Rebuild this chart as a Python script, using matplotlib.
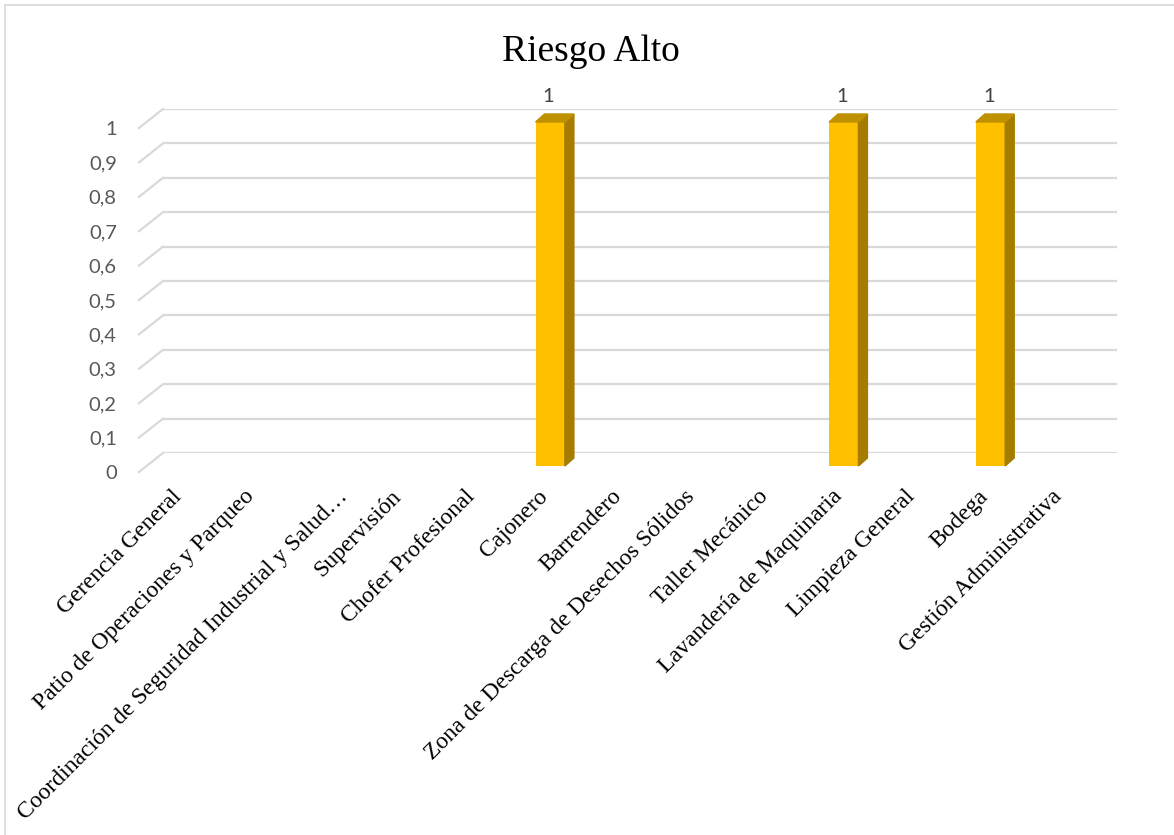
import numpy as np
import matplotlib
matplotlib.use("Agg")
import matplotlib.pyplot as plt
import matplotlib.transforms as mtransforms
from matplotlib.patches import Polygon
from matplotlib.lines import Line2D

# datos del grafico
categorias = ["Gerencia General", "Patio de Operaciones y Parqueo",
              "Coordinación de Seguridad Industrial y Salud…", "Supervisión",
              "Chofer Profesional", "Cajonero", "Barrendero",
              "Zona de Descarga de Desechos Sólidos", "Taller Mecánico",
              "Lavandería de Maquinaria", "Limpieza General", "Bodega",
              "Gestión Administrativa"]
valores = [0, 0, 0, 0, 0, 1, 0, 0, 0, 1, 0, 1, 0]
y_ticks = [0, 0.1, 0.2, 0.3, 0.4, 0.5, 0.6, 0.7, 0.8, 0.9, 1]
y_labels = ["0", "0,1", "0,2", "0,3", "0,4", "0,5", "0,6", "0,7", "0,8", "0,9", "1"]
titulo = "Riesgo Alto"

W, H = 1174, 835
fig = plt.figure(figsize=(W / 100, H / 100), dpi=100)

# pared del fondo en pixeles
left, right, top, bottom = 163, 1117, 109, 453
ax = fig.add_axes([left / W, 1 - bottom / H, (right - left) / W, (bottom - top) / H])
n = len(categorias)
ax.set_xlim(-0.5, n - 0.5)
ax.set_ylim(0, 1)
for s in ax.spines.values():
    s.set_visible(False)

px_x = (right - left) / n
px_y = (bottom - top)

gris = "#D9D9D9"
ax.set_yticks(y_ticks)
ax.set_yticklabels(y_labels, fontsize=14.5, color="#595959", family="Lato")
ax.yaxis.grid(True, color=gris, lw=1.6)
ax.set_axisbelow(True)
ax.tick_params(axis="y", length=0, pad=16)

# diagonales del piso / pared lateral
fx, fy = -24, -19
for t in y_ticks:
    ax.add_line(Line2D([-0.5, -0.5 + fx / px_x], [t, t + fy / px_y],
                       color=gris, lw=1.6, clip_on=False))

for lab in ax.get_yticklabels():
    lab.set_transform(lab.get_transform() +
                      mtransforms.ScaledTranslation(fx / 100, fy / 100, fig.dpi_scale_trans))

ax.set_xticks(range(n))
ax.set_xticklabels(categorias, rotation=45, ha="right", va="top",
                   rotation_mode="anchor", fontsize=17, family="Liberation Serif")
ax.tick_params(axis="x", length=0, pad=10)
for i, lab in enumerate(ax.get_xticklabels()):
    extra = 20 if lab.get_text().endswith("…") else 0  # la etiqueta recortada va corrida
    lab.set_transform(lab.get_transform() +
                      mtransforms.ScaledTranslation((fx - 5 + extra) / 100, fy / 100,
                                                    fig.dpi_scale_trans))

# barras 3d
front = mtransforms.offset_copy(ax.transData, fig=fig, x=-16.4, y=-13, units="dots")
w = 0.4
dxd, dyd = 9 / px_x, 8 / px_y
x = np.arange(n)
barras = ax.bar(x, valores, width=w, color="#FFC000", transform=front, zorder=3)
for b in barras:
    b.set_clip_on(False)
for xi, v in zip(x, valores):
    if v == 0:
        continue
    side = Polygon([(xi + w / 2, 0), (xi + w / 2 + dxd, dyd),
                    (xi + w / 2 + dxd, v + dyd), (xi + w / 2, v)],
                   closed=True, color="#A67C00", transform=front, zorder=3, clip_on=False)
    tapa = Polygon([(xi - w / 2, v), (xi + w / 2, v),
                    (xi + w / 2 + dxd, v + dyd), (xi - w / 2 + dxd, v + dyd)],
                   closed=True, color="#BF9000", transform=front, zorder=3, clip_on=False)
    ax.add_patch(side)
    ax.add_patch(tapa)
    lbl_tr = mtransforms.offset_copy(ax.transData, fig=fig, x=-18, y=12, units="dots")
    ax.text(xi, v, str(v), transform=lbl_tr, ha="center", va="center",
            fontsize=14.5, color="#404040", family="Lato", clip_on=False)

fig.text(591 / W, 1 - 61 / H, titulo, ha="center", va="baseline",
         fontsize=27, family="Liberation Serif")

# borde del area del grafico
fig.add_artist(Line2D([5 / W, 1], [1 - 5 / H, 1 - 5 / H], transform=fig.transFigure,
                      color=gris, lw=1.2))
fig.add_artist(Line2D([5 / W, 5 / W], [0, 1 - 5 / H], transform=fig.transFigure,
                      color=gris, lw=1.2))

fig.savefig("out.png", dpi=100)
